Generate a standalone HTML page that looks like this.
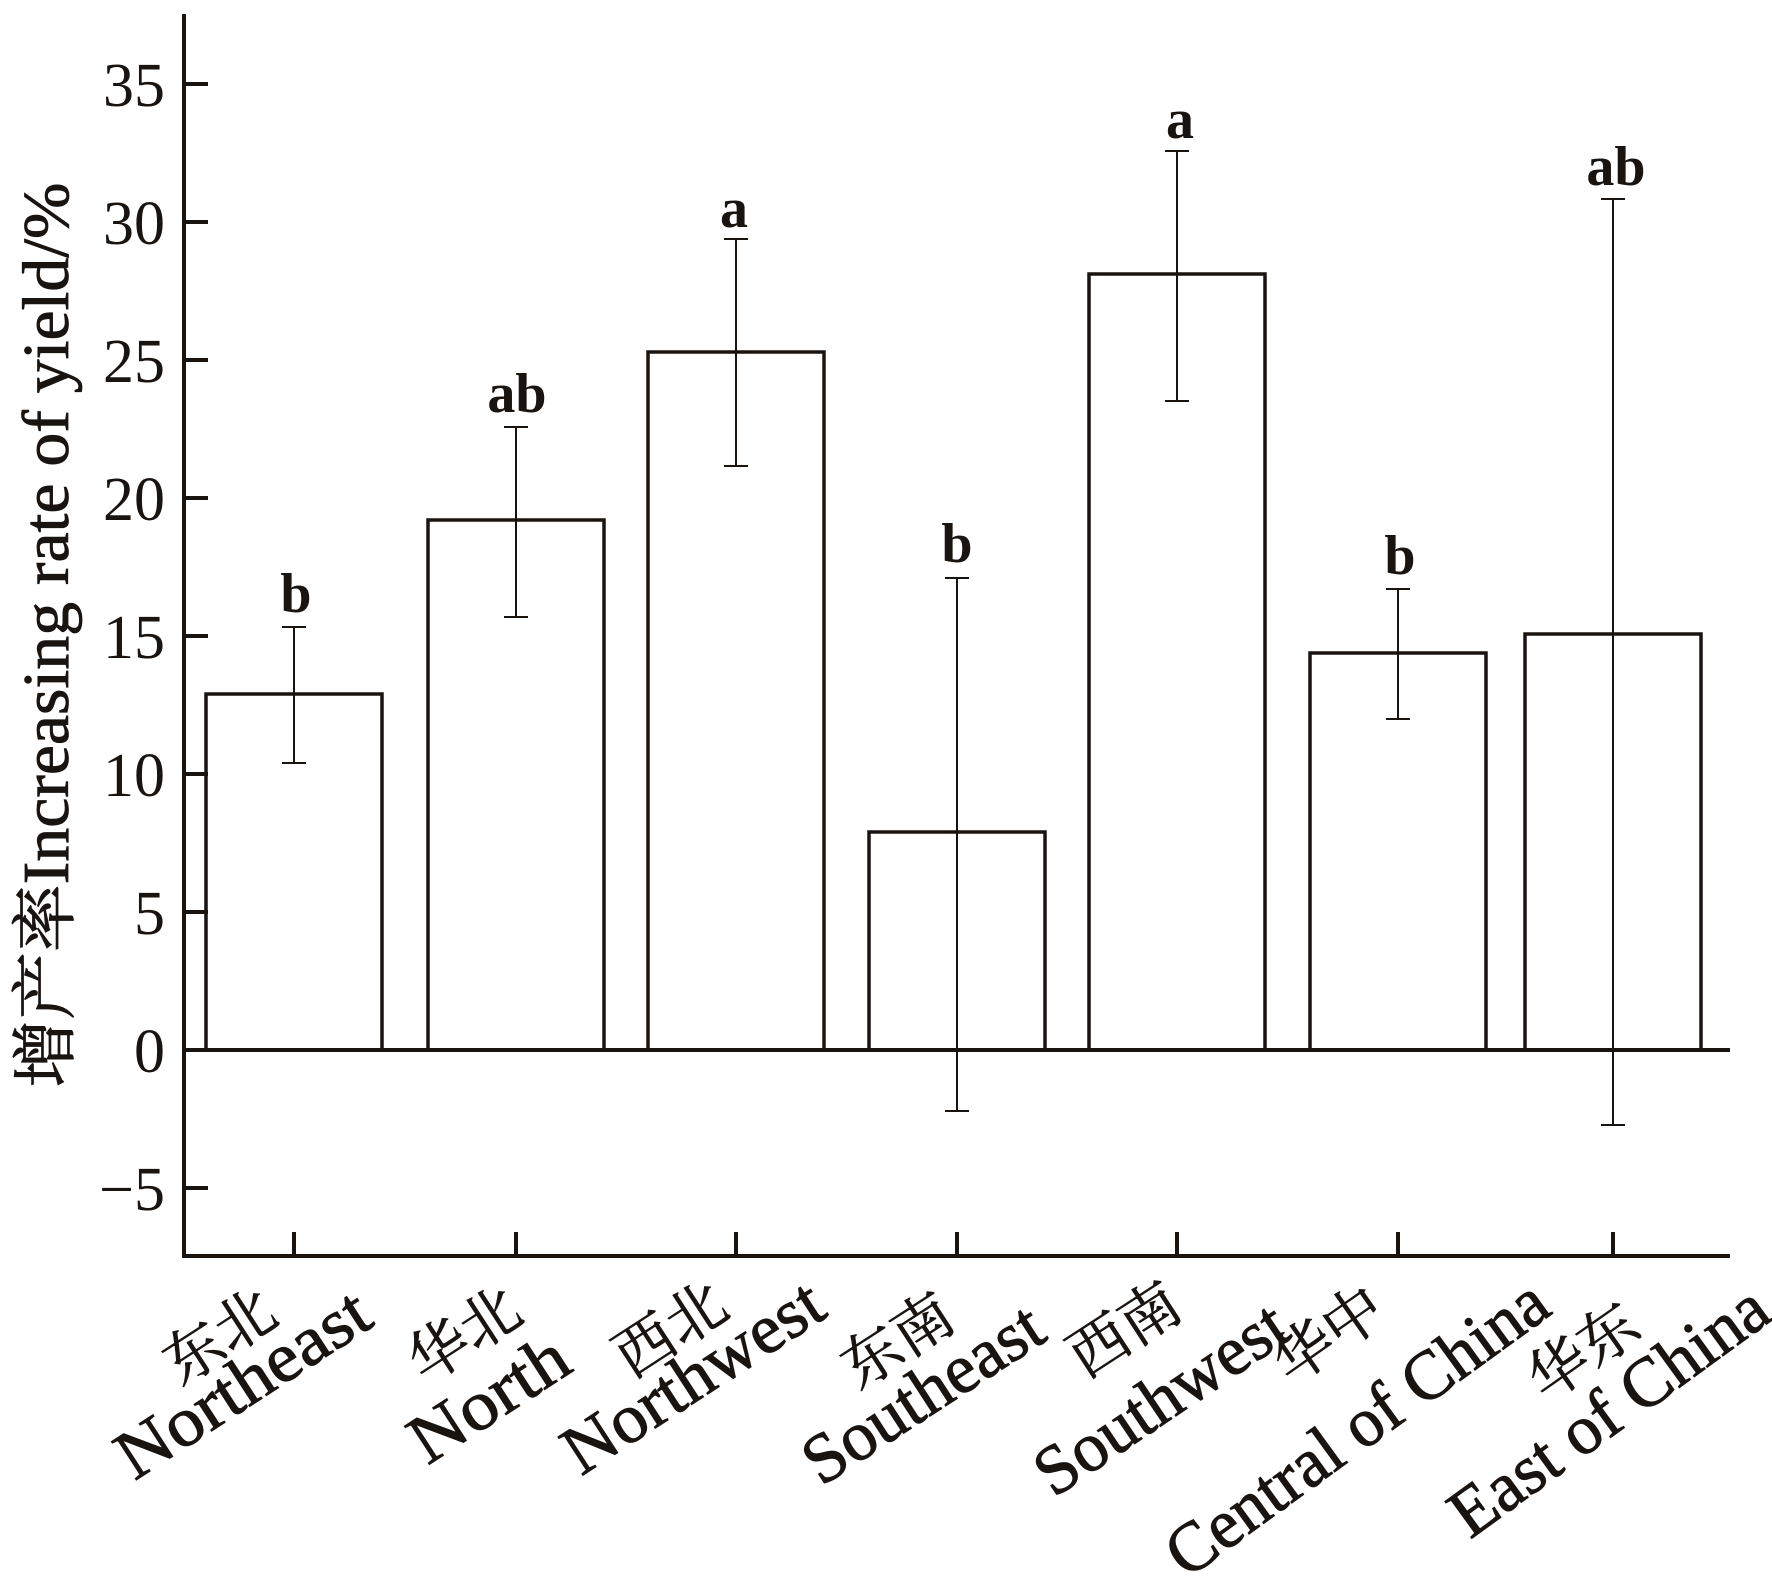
<!DOCTYPE html>
<html><head><meta charset="utf-8"><style>html,body{margin:0;padding:0;background:#fff}svg{display:block}</style></head>
<body>
<svg width="1772" height="1581" viewBox="0 0 1772 1581" xmlns="http://www.w3.org/2000/svg">
<g stroke="#1a1411" fill="none">
<rect x="206" y="694" width="176" height="356" stroke-width="3.5"/>
<rect x="428" y="520" width="176" height="530" stroke-width="3.5"/>
<rect x="648" y="352" width="176" height="698" stroke-width="3.5"/>
<rect x="869" y="832" width="176" height="218" stroke-width="3.5"/>
<rect x="1089" y="274" width="176" height="776" stroke-width="3.5"/>
<rect x="1310" y="653" width="176" height="397" stroke-width="3.5"/>
<rect x="1525" y="634" width="176" height="416" stroke-width="3.5"/>
<g stroke-width="2">
<path d="M294 627V763M282 627H306M282 763H306"/>
<path d="M516 427V617M504 427H528M504 617H528"/>
<path d="M736 239V466M724 239H748M724 466H748"/>
<path d="M957 578V1111M945 578H969M945 1111H969"/>
<path d="M1177 151V401M1165 151H1189M1165 401H1189"/>
<path d="M1398 589V719M1386 589H1410M1386 719H1410"/>
<path d="M1613 199V1125M1601 199H1625M1601 1125H1625"/>
</g>
<path d="M184 14V1258M182 1256H1730M184 1050H1730" stroke-width="4"/>
<g stroke-width="4">
<path d="M184 84H208M184 222H208M184 360H208M184 498H208M184 636H208M184 774H208M184 912H208M184 1188H208"/>
<path d="M294 1256V1232M516 1256V1232M736 1256V1232M957 1256V1232M1177 1256V1232M1398 1256V1232M1613 1256V1232"/>
</g>
</g>
<g font-family="Liberation Serif, serif" font-size="62" fill="#1a1411" text-anchor="end">
<text x="165" y="106">35</text>
<text x="165" y="244">30</text>
<text x="165" y="382">25</text>
<text x="165" y="520">20</text>
<text x="165" y="658">15</text>
<text x="165" y="796">10</text>
<text x="165" y="934">5</text>
<text x="165" y="1072">0</text>
<text x="165" y="1210">−5</text>
</g>
<g font-family="Liberation Serif, serif" font-size="56" font-weight="bold" fill="#1a1411" text-anchor="middle">
<text x="296" y="612">b</text>
<text x="517" y="412">ab</text>
<text x="734" y="227">a</text>
<text x="957" y="562">b</text>
<text x="1180" y="138">a</text>
<text x="1400" y="574">b</text>
<text x="1616" y="185">ab</text>
</g>
<text transform="translate(68,635) rotate(-90)" text-anchor="middle" font-family="Liberation Serif, Noto Serif CJK SC, serif" font-size="66" fill="#1a1411" stroke="#1a1411" stroke-width="0.8" textLength="905" lengthAdjust="spacingAndGlyphs"><tspan font-family="Noto Serif CJK SC, serif">增产率</tspan>Increasing rate of yield/%</text>
<g font-family="Liberation Serif, serif" font-size="70" fill="#1a1411" stroke="#1a1411" stroke-width="1" text-anchor="middle" dominant-baseline="central">
<g font-family="Noto Serif CJK SC, serif" font-size="60" stroke-width="0.6">
<text transform="translate(217,1333) rotate(-33)">东北</text>
<text transform="translate(462,1331) rotate(-33)">华北</text>
<text transform="translate(668,1326) rotate(-33)">西北</text>
<text transform="translate(895,1337) rotate(-33)">东南</text>
<text transform="translate(1122,1326) rotate(-33)">西南</text>
<text transform="translate(1326,1331) rotate(-35)">华中</text>
<text transform="translate(1581,1348) rotate(-35)">华东</text>
</g>
<text transform="translate(243,1384) rotate(-33)" textLength="288" lengthAdjust="spacingAndGlyphs">Northeast</text>
<text transform="translate(489,1399) rotate(-33)" textLength="176" lengthAdjust="spacingAndGlyphs">North</text>
<text transform="translate(693,1377) rotate(-33)" textLength="296" lengthAdjust="spacingAndGlyphs">Northwest</text>
<text transform="translate(923,1394) rotate(-33)" textLength="272" lengthAdjust="spacingAndGlyphs">Southeast</text>
<text transform="translate(1161,1399) rotate(-34)" textLength="289" lengthAdjust="spacingAndGlyphs">Southwest</text>
<text transform="translate(1357,1428) rotate(-36)" textLength="454" lengthAdjust="spacingAndGlyphs">Central of China</text>
<text transform="translate(1609,1411) rotate(-36)" textLength="376" lengthAdjust="spacingAndGlyphs">East of China</text>
</g>
</svg>
</body></html>
